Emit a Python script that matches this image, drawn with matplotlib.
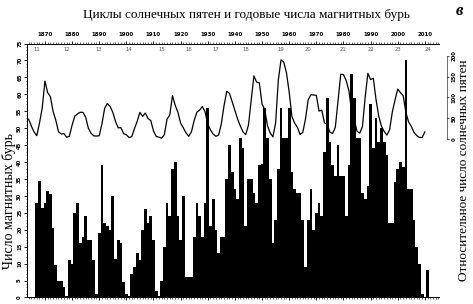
import matplotlib
matplotlib.use("Agg")
import matplotlib.pyplot as plt
from matplotlib.ticker import MultipleLocator
import numpy as np

# --- data -------------------------------------------------------------
# annual number of magnetic storms (bars), starting 1867
storm_start = 1867
storms = [
    28, 34.5, 26.5, 28, 31.5, 30.5, 20.5, 9.5, 5, 5, 3, 0.5,        # 1867-1878
    11, 10, 25, 28, 16, 18, 24, 17, 17, 11, 1, 19,                   # 1879-1890
    39, 22, 21, 20, 30, 11.5, 17, 16, 4.5, 1, 0.3, 7,                # 1891-1902
    9, 13, 11, 20, 26, 22, 24, 17, 2, 0.5, 5, 15,                    # 1903-1914
    28, 24, 38, 40, 24, 17, 30, 6, 6, 6, 18, 28,                     # 1915-1926
    24, 18, 28, 56, 21, 29, 20, 13, 18, 18, 35, 45,                  # 1927-1938
    37, 32, 29, 47, 44, 21, 35, 35, 31, 28, 39, 39.5,                # 1939-1950
    56, 47, 35, 16, 23, 38, 56, 47, 47, 56, 37, 32,                  # 1951-1962
    31, 31, 23, 9, 23, 32, 20, 25, 28, 24, 43, 59,                   # 1963-1974
    46, 39, 36, 45, 36, 36, 24, 39, 66, 59, 47, 47,                  # 1975-1986
    31, 29, 33, 57, 44, 53, 46, 50, 46, 42, 22, 22,                  # 1987-1998
    34, 38, 40, 38.5, 70, 32, 32, 23, 15, 10, 1, 0,                  # 1999-2010
    8,                                                               # 2011
]
storm_years = np.arange(storm_start, storm_start + len(storms))

# yearly mean relative sunspot number (Wolf), 1864-2010
ssn_start = 1864
ssn = [
    47.0, 30.5, 16.3, 7.3, 37.6, 74.0, 139.0, 111.2, 101.6, 66.2,
    44.7, 17.0, 11.3, 12.4, 3.4, 6.0, 32.3, 54.3, 59.7, 63.7,
    63.5, 52.2, 25.4, 13.1, 6.8, 6.3, 7.1, 35.6, 73.0, 85.1,
    78.0, 64.0, 41.8, 26.2, 26.7, 12.1, 9.5, 2.7, 5.0, 24.4,
    42.0, 63.5, 53.8, 62.0, 48.5, 43.9, 18.6, 5.7, 3.6, 1.4,
    9.6, 47.4, 57.1, 103.9, 80.6, 63.6, 37.6, 26.1, 14.2, 5.8,
    16.7, 44.3, 63.9, 69.0, 77.8, 64.9, 35.7, 21.2, 11.1, 5.7,
    8.7, 36.1, 79.7, 114.4, 109.6, 88.8, 67.8, 47.5, 30.6, 16.3,
    9.6, 33.2, 92.6, 151.6, 136.3, 134.7, 83.9, 69.4, 31.5, 13.9,
    4.4, 38.0, 141.7, 190.2, 184.8, 159.0, 112.3, 53.9, 37.6, 27.9,
    10.2, 15.1, 47.0, 93.8, 105.9, 105.5, 104.5, 66.6, 68.9, 38.0,
    34.5, 15.5, 12.6, 27.5, 92.5, 155.4, 154.6, 140.4, 115.9, 66.6,
    45.9, 17.9, 13.4, 29.4, 100.2, 157.6, 142.6, 145.7, 94.3, 54.6,
    29.9, 17.5, 8.6, 21.5, 64.3, 93.3, 119.6, 111.0, 104.0, 63.7,
    40.4, 29.8, 15.2, 7.5, 2.9, 3.1, 16.5,
]
ssn_years = np.arange(ssn_start, ssn_start + len(ssn))

# solar cycle numbers and where they sit along the top
cycle_labels = ["11", "12", "13", "14", "15", "16", "17", "18",
                "19", "20", "21", "22", "23", "24"]
cycle_years = [1867, 1878, 1890, 1901, 1913, 1923, 1933, 1944,
               1957, 1967, 1980, 1990, 2000, 2011]

decade_ticks = list(range(1870, 2011, 10))

# --- figure ------------------------------------------------------------
fig = plt.figure(figsize=(4.73, 3.04), dpi=100)
ax = fig.add_axes([0.0571, 0.0214, 0.8710, 0.8355])

ax.bar(storm_years, storms, width=1.0, color="black", linewidth=0)
ax.set_xlim(1863.4, 2015.2)
ax.set_ylim(0, 75)

# left axis: rotated small labels, minor ticks every unit
ax.yaxis.set_major_locator(MultipleLocator(5))
ax.yaxis.set_minor_locator(MultipleLocator(1))
ax.tick_params(axis="y", which="major", length=2, width=0.6, labelsize=3.8,
               pad=1.5, labelrotation=90)
ax.tick_params(axis="y", which="minor", length=1, width=0.4)
for lbl in ax.get_yticklabels():
    lbl.set_fontweight("bold")
    lbl.set_va("center")

# years on top
ax.xaxis.tick_top()
ax.set_xticks(decade_ticks)
ax.set_xticklabels([str(y) for y in decade_ticks], fontsize=4, fontweight="bold")
ax.xaxis.set_minor_locator(MultipleLocator(1))
ax.tick_params(axis="x", which="major", top=True, bottom=True, length=2,
               width=0.6, pad=3)
ax.tick_params(axis="x", which="minor", top=True, bottom=True, length=1.2,
               width=0.4)

ax.spines["right"].set_visible(False)
for s in ("left", "top", "bottom"):
    ax.spines[s].set_linewidth(0.7)

# cycle numbers
for lab, yr in zip(cycle_labels, cycle_years):
    ax.text(yr, 73.2, lab, fontsize=3.8, color="#555555", ha="center",
            va="center")

# sunspot curve on twin axis (0 sits just below the middle)
ax2 = ax.twinx()
ax2.plot(ssn_years, ssn, color="black", linewidth=0.9)
ax2.set_ylim(-383, 229.6)
ax2.set_yticks([0, 50, 100, 150, 200])
ax2.spines["right"].set_bounds(0, 200)
ax2.spines["right"].set_position(("outward", 6))
ax2.spines["right"].set_linewidth(0.4)
for s in ("left", "top", "bottom"):
    ax2.spines[s].set_visible(False)
ax2.tick_params(axis="y", length=1.5, width=0.5, labelsize=3.8, pad=1.5,
                labelrotation=90)
for lbl in ax2.get_yticklabels():
    lbl.set_fontweight("bold")
    lbl.set_va("center")

# texts
fig.text(0.52, 0.952, "Циклы солнечных пятен и годовые числа магнитных бурь",
         ha="center", va="center", fontsize=9.5, family="Liberation Serif")
fig.text(0.972, 0.965, "в", ha="center", va="center", fontsize=12,
         family="Liberation Serif", style="italic", fontweight="bold")
fig.text(0.018, 0.34, "Число магнитных бурь", rotation=90, ha="center",
         va="center", fontsize=10, family="Liberation Serif")
fig.text(0.980, 0.44, "Относительное число солнечных пятен", rotation=90,
         ha="center", va="center", fontsize=9.5, family="Liberation Serif")

fig.savefig("out.png", dpi=100)
